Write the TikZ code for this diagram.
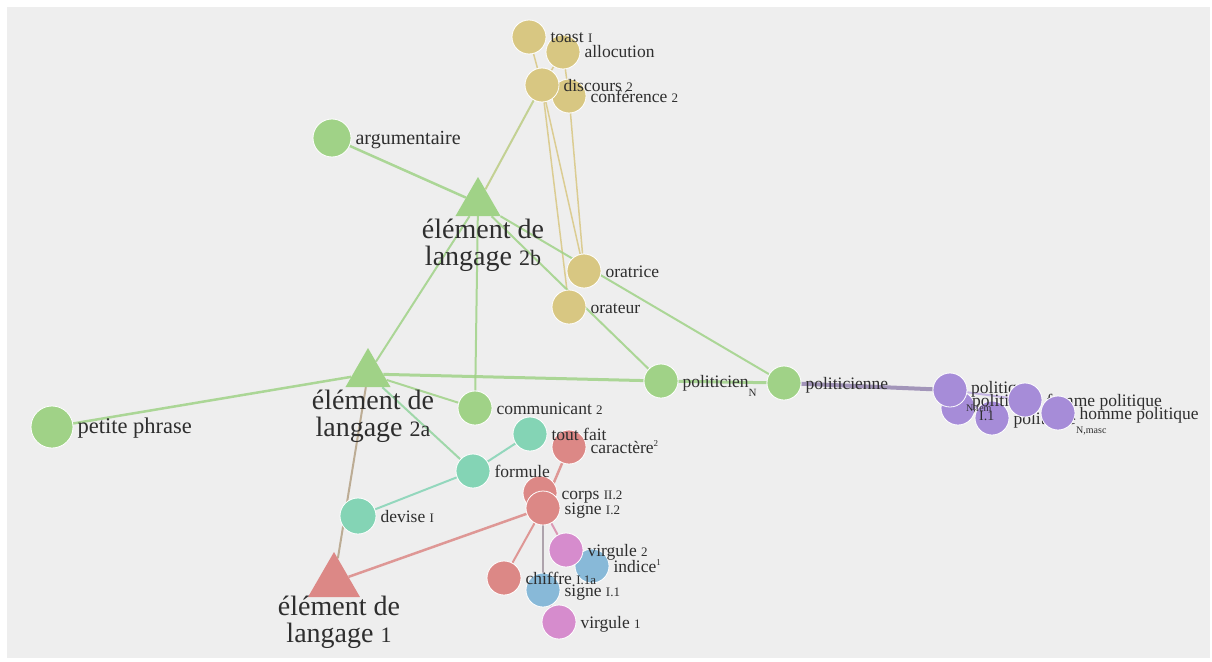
\documentclass[tikz,border=0pt]{standalone}
\usepackage{fontspec}
\setmainfont{Liberation Serif}
\usepackage{tikz}
\usetikzlibrary{shapes.geometric,positioning}
\definecolor{bggray}{HTML}{EEEEEE}
\definecolor{ngreen}{HTML}{A0D287}
\definecolor{ntan}{HTML}{D8C782}
\definecolor{nteal}{HTML}{84D4B5}
\definecolor{nred}{HTML}{DC8886}
\definecolor{npink}{HTML}{D68CCD}
\definecolor{nblue}{HTML}{88B9D8}
\definecolor{npurple}{HTML}{A68CD8}
\definecolor{txt}{HTML}{2E2E2E}
\pgfdeclarelayer{bg}
\pgfdeclarelayer{links}
\pgfsetlayers{bg,links,main}
\newcommand{\ix}[1]{{\fontsize{13}{13}\selectfont #1}}
\newcommand{\sx}[1]{\raisebox{7pt}{\fontsize{9}{9}\selectfont #1}}
\tikzset{
  dot/.style    = {circle, fill=#1, draw=white, line width=0.8pt,
                   minimum size=34pt, inner sep=0pt},
  tri/.style    = {regular polygon, regular polygon sides=3, fill=#1,
                   inner sep=0pt, minimum size=52pt},
  lbl/.style    = {inner sep=0pt, text=txt, yshift=-6pt,
                   font=\fontsize{17.5}{18}\selectfont},
  biglbl/.style = {inner sep=0pt, text=txt, align=center, xshift=5pt,
                   font=\fontsize{28}{27}\selectfont},
  tiny/.style   = {inner sep=0pt, text=txt, anchor=base west,
                   font=\fontsize{10}{10}\selectfont},
  lnk/.style    = {draw=#1, line width=2pt, opacity=.85}
}
\begin{document}
\begin{tikzpicture}[x=1pt,y=-1pt]
  \useasboundingbox (0,0) rectangle (1212,661);
  \begin{pgfonlayer}{bg}
    \fill[bggray] (7,7) rectangle (1210,658);
  \end{pgfonlayer}
  % nodes
  \node[dot=ntan] (alc) at (563,52) {};
  \node[dot=ntan] (cnf) at (569,96) {};
  \node[dot=ntan] (tst) at (529,37) {};
  \node[dot=ntan] (dis) at (542,85) {};
  \node[dot=ntan] (ort) at (584,271) {};
  \node[dot=ntan] (orr) at (569,307) {};
  \node[dot=ngreen,minimum size=38pt] (arg) at (332,138) {};
  \node[tri=ngreen] (e2b) at (478,203) {};
  \node[tri=ngreen] (e2a) at (368,374) {};
  \node[tri=nred,minimum size=60pt] (e1) at (334,582) {};
  \node[dot=ngreen] (pcn) at (661,381) {};
  \node[dot=ngreen] (pce) at (784,383) {};
  \node[dot=ngreen,minimum size=42pt] (ppr) at (52,427) {};
  \node[dot=ngreen] (com) at (475,408) {};
  \node[dot=nteal] (tfa) at (530,434) {};
  \node[dot=nteal] (frm) at (473,471) {};
  \node[dot=nteal,minimum size=36pt] (dev) at (358,516) {};
  \node[dot=nred] (car) at (569,447) {};
  \node[dot=nred] (cor) at (540,493) {};
  \node[dot=nred] (sg2) at (543,508) {};
  \node[dot=nred] (chf) at (504,578) {};
  \node[dot=nblue] (ind) at (592,566) {};
  \node[dot=npink] (vg2) at (566,550) {};
  \node[dot=nblue] (sg1) at (543,590) {};
  \node[dot=npink] (vg1) at (559,622) {};
  \node[dot=npurple] (pl2) at (958,408) {};
  \node[dot=npurple] (pl1) at (950,390) {};
  \node[dot=npurple] (pl3) at (992,418) {};
  % links
  \begin{pgfonlayer}{links}
    \draw[lnk=ntan,line width=1.5pt] (tst) -- (dis);
    \draw[lnk=ntan,line width=1.5pt] (alc) -- (dis);
    \draw[lnk=ntan,line width=1.5pt] (alc) -- (cnf);
    \draw[lnk=ntan,line width=1.5pt] (dis) -- (ort);
    \draw[lnk=ntan,line width=1.5pt] (dis) -- (orr);
    \draw[lnk=ntan,line width=1.5pt] (cnf) -- (ort);
    \draw[lnk=ntan!50!ngreen] (dis) -- (e2b);
    \draw[lnk=ngreen,line width=2.5pt] (arg) -- (e2b);
    \draw[lnk=ngreen] (e2b) -- (e2a);
    \draw[lnk=ngreen] (e2b) -- (com);
    \draw[lnk=ngreen] (e2b) -- (pcn);
    \draw[lnk=ngreen] (e2b) -- (pce);
    \draw[lnk=ngreen,line width=2.5pt] (e2a) -- (ppr);
    \draw[lnk=ngreen,line width=3pt] (e2a) -- (pcn);
    \draw[lnk=ngreen] (e2a) -- (com);
    \draw[lnk=ngreen!50!nteal] (e2a) -- (frm);
    \draw[lnk=ngreen!45!nred!80!gray] (e2a) -- (e1);
    \draw[lnk=ngreen,line width=3pt] (pcn) -- (pce);
    \draw[lnk=npurple!55!gray,line width=4pt] (pce) -- (pl1);
    \draw[lnk=npurple] (pl1) -- (pl3);
    \draw[lnk=nteal] (frm) -- (tfa);
    \draw[lnk=nteal] (frm) -- (dev);
    \draw[lnk=nred,line width=2.5pt] (car) -- (sg2);
    \draw[lnk=nred,line width=2.5pt] (sg2) -- (e1);
    \draw[lnk=nred] (sg2) -- (chf);
    \draw[lnk=nblue!50!nred!70!gray] (sg2) -- (sg1);
    \draw[lnk=nred!50!npink] (sg2) -- (vg2);
    \draw[lnk=npink,line width=1.5pt] (sg1) -- (vg1);
  \end{pgfonlayer}
  % labels
  \node[lbl,base right=4pt of tst] (tst-l) {toast \ix{I}};
  \node[lbl,base right=4pt of alc] (alc-l) {allocution};
  \node[lbl,base right=4pt of dis] (dis-l) {discours \ix{2}};
  \node[lbl,base right=4pt of cnf] (cnf-l) {conférence \ix{2}};
  \node[lbl,base right=4pt of arg,font=\fontsize{20}{20}\selectfont] (arg-l) {argumentaire};
  \node[lbl,base right=4pt of ort] (ort-l) {oratrice};
  \node[lbl,base right=4pt of orr] (orr-l) {orateur};
  \node[lbl,base right=4pt of pcn] (pcn-l) {politicien\raisebox{-9pt}{\fontsize{11}{11}\selectfont N}};
  \node[lbl,base right=4pt of pce] (pce-l) {politicienne};
  \node[lbl,base right=4pt of ppr,font=\fontsize{22.5}{22}\selectfont] (ppr-l) {petite phrase};
  \node[lbl,base right=4pt of com] (com-l) {communicant \ix{2}};
  \node[lbl,base right=4pt of tfa] (tfa-l) {tout fait};
  \node[lbl,base right=4pt of car] (car-l) {caractère\sx{2}};
  \node[lbl,base right=4pt of frm] (frm-l) {formule};
  \node[lbl,base right=4pt of cor] (cor-l) {corps \ix{II.2}};
  \node[lbl,base right=4pt of sg2] (sg2-l) {signe \ix{I.2}};
  \node[lbl,base right=4pt of dev] (dev-l) {devise \ix{I}};
  \node[lbl,base right=4pt of vg2] (vg2-l) {virgule \ix{2}};
  \node[lbl,base right=4pt of ind] (ind-l) {indice\sx{1}};
  \node[lbl,base right=4pt of chf] (chf-l) {chiffre \ix{I.1a}};
  \node[lbl,base right=4pt of sg1] (sg1-l) {signe \ix{I.1}};
  \node[lbl,base right=4pt of vg1] (vg1-l) {virgule \ix{1}};
  \node[biglbl,below=3pt of e2b] (e2b-l) {élément de\\langage {\fontsize{22}{22}\selectfont 2b}};
  \node[biglbl,below=3pt of e2a] (e2a-l) {élément de\\langage {\fontsize{22}{22}\selectfont 2a}};
  \node[biglbl,below=-1pt of e1] (e1-l) {élément de\\langage {\fontsize{22}{22}\selectfont 1}};
  \node[lbl,anchor=base west,yshift=0pt] (pl1-l) at (971,387) {politique};
  \node[lbl,anchor=base west,yshift=0pt] (pl2-l) at (972,400) {politique};
  \node[lbl,base right=4pt of pl3] (pl3-l) {politique};
  \node[tiny] (nfem) at (966,411) {N,fem};
  \node[lbl,anchor=base west,yshift=0pt,font=\fontsize{14}{14}\selectfont] (ione) at (979,414) {I.1};
  \node[tiny] (adj) at (1049,410) {Adj};
  % last two cover the labels before them
  \node[dot=npurple] (pl4) at (1025,400) {};
  \begin{pgfonlayer}{links}
    \draw[lnk=npurple!70!white] (pl1) -- (pl4);
  \end{pgfonlayer}
  \node[lbl,base right=4pt of pl4] (pl4-l) {femme politique};
  \node[dot=npurple] (pl5) at (1058,413) {};
  \node[lbl,base right=4pt of pl5] (pl5-l) {homme politique};
  \node[tiny] (nmasc) at (1076,433) {N,masc};
\end{tikzpicture}
\end{document}
